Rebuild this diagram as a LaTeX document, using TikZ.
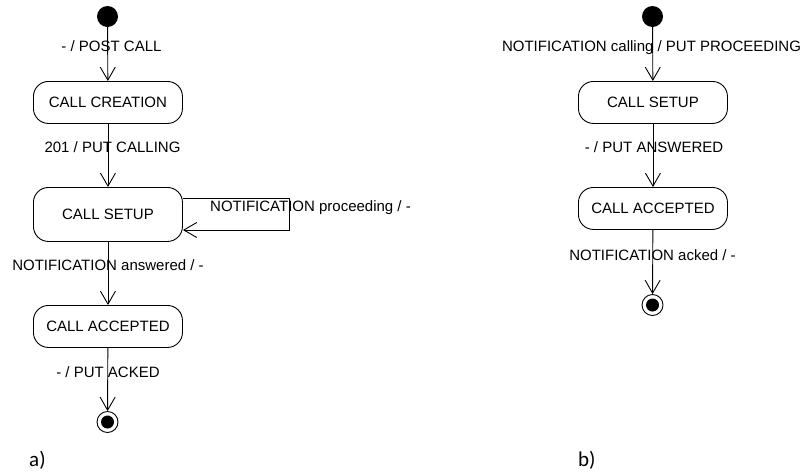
\documentclass[tikz,border=0pt]{standalone}
\usepackage{fontspec}
\setmainfont{Liberation Sans}
\newfontfamily\captionfont{Carlito}
\usetikzlibrary{arrows.meta}
\begin{document}
\begin{tikzpicture}[x=1pt,y=-1pt,
  state/.style={draw=black,line width=0.9pt,rounded corners=15pt,minimum width=149pt,
    minimum height=42pt,inner sep=0pt,font=\fontsize{15}{18}\selectfont,anchor=north west},
  trans/.style={draw=black,line width=0.9pt,-{Straight Barb[length=13pt,width=15pt,line width=0.9pt]}},
  tlabel/.style={inner sep=0pt,anchor=base,font=\fontsize{15}{18}\selectfont},
  initdot/.style={circle,fill=black,minimum size=21pt,inner sep=0pt},
  finalring/.style={circle,draw=black,line width=0.9pt,fill=white,minimum size=21pt,inner sep=0pt},
  finaldot/.style={circle,fill=black,minimum size=13pt,inner sep=0pt},
  sublabel/.style={inner sep=0pt,anchor=base west,font=\captionfont\fontsize{21}{24}\selectfont}]
\useasboundingbox[fill=white] (0,0) rectangle (802,472);

% ---- a) outgoing call ----
\node[initdot] (ia) at (107.5,16.5) {};
\node[state] (creation) at (33,81) {CALL CREATION};
\node[state,minimum height=54pt] (setupA) at (33,187) {CALL SETUP};
\node[state] (acceptedA) at (33,305) {CALL ACCEPTED};
\node[finalring] (fa) at (107.5,422) {};
\node[finaldot] at (fa) {};

\draw[trans] (ia) -- (creation);
\draw[trans] (creation) -- (setupA);
\draw[trans] (setupA) -- (acceptedA);
\draw[trans] (acceptedA) -- (fa);

\coordinate (loopA) at (289,198);
\coordinate (loopB) at (289,230);
\draw[trans] (setupA.east |- loopA) -- (loopA) -- (loopB) -- (setupA.east |- loopB);

\node[tlabel] at (111.5,51.4) {- / POST CALL};
\node[tlabel] at (112.5,152.4) {201 / PUT CALLING};
\node[tlabel,anchor=base west] at (210,211.4) {NOTIFICATION proceeding / -};
\node[tlabel] at (108,270.4) {NOTIFICATION answered / -};
\node[tlabel] at (108,377.4) {- / PUT ACKED};

\node[sublabel] at (29,466) {a)};

% ---- b) incoming call ----
\node[initdot] (ib) at (652.5,16.5) {};
\node[state] (setupB) at (578,81) {CALL SETUP};
\node[state] (acceptedB) at (578,187) {CALL ACCEPTED};
\node[finalring] (fb) at (652.5,305) {};
\node[finaldot] at (fb) {};

\draw[trans] (ib) -- (setupB);
\draw[trans] (setupB) -- (acceptedB);
\draw[trans] (acceptedB) -- (fb);

\node[tlabel] at (651.5,51.4) {NOTIFICATION calling / PUT PROCEEDING};
\node[tlabel] at (654,152.4) {- / PUT ANSWERED};
\node[tlabel] at (652.5,260.4) {NOTIFICATION acked / -};

\node[sublabel] at (578,466) {b)};
\end{tikzpicture}
\end{document}
